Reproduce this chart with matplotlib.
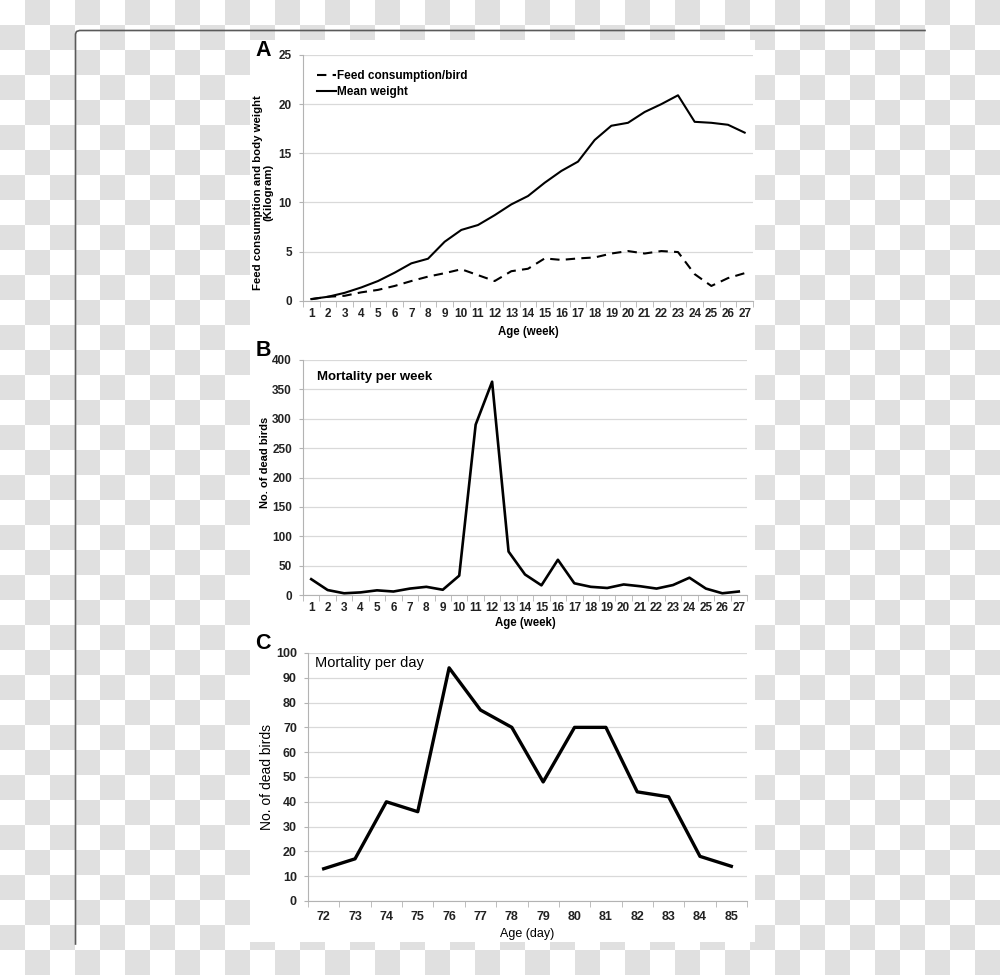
import numpy as np
import matplotlib
matplotlib.use('Agg')
import matplotlib.pyplot as plt
from matplotlib.patches import Rectangle

plt.rcParams['font.family'] = ['Liberation Sans', 'DejaVu Sans']
plt.rcParams['font.weight'] = 'bold'

# panel A: weekly feed and weight (kg)
weeks = list(range(1, 28))
mean_weight = [0.17, 0.4, 0.8, 1.35, 2.0, 2.85, 3.8, 4.27, 6.0, 7.2, 7.7, 8.7, 9.8, 10.65,
               12.0, 13.2, 14.15, 16.35, 17.8, 18.1, 19.2, 20.0, 20.9, 18.2, 18.1, 17.9, 17.1]
feed_per_bird = [0.15, 0.4, 0.5, 0.85, 1.1, 1.5, 2.0, 2.45, 2.8, 3.2, 2.6, 2.0, 3.0, 3.25,
                 4.3, 4.15, 4.3, 4.4, 4.8, 5.05, 4.8, 5.05, 4.95, 2.7, 1.5, 2.3, 2.8]

# panel B: mortality per week
dead_week = [27, 8.5, 3, 4.5, 8, 6, 11, 14, 9, 33, 290, 363, 74, 35,
             16.5, 60, 20, 14, 12, 18, 15, 11, 17, 29.5, 11, 3, 6]

# panel C: mortality per day
days = list(range(72, 86))
dead_day = [13, 17, 40, 36, 94, 77, 70, 48, 70, 70, 44, 42, 18, 14]

GRID = '#d9d9d9'
AXC = '#b3b3b3'

fig = plt.figure(figsize=(10, 9.75), dpi=100)

# checkerboard backdrop and page frame (pixel coords)
bg = fig.add_axes([0, 0, 1, 1])
ii, jj = np.meshgrid(np.arange(40), np.arange(39))
checker = np.where((ii + jj) % 2 == 1, 224, 255).astype(np.uint8)
bg.imshow(np.dstack([checker] * 3), extent=(0, 1000, 975, 0), interpolation='nearest')
bg.add_patch(Rectangle((250, 40), 505, 902, facecolor='white', edgecolor='none'))
bg.plot([75.5, 75.5, 76.5, 79.5, 925], [944, 34, 31.5, 30.5, 30.5], color='#5a5a5a', lw=1.2)
bg.set_xlim(0, 1000)
bg.set_ylim(975, 0)
bg.axis('off')


def style_axes(ax, ncat, ymax, ystep, lab_pad, fs=8.5):
    ax.set_facecolor('none')
    ax.set_xlim(0.5, ncat + 0.5)
    ax.set_ylim(0, ymax)
    ax.set_yticks(np.arange(0, ymax + 1, ystep))
    ax.grid(axis='y', color=GRID, lw=0.9)
    ax.set_axisbelow(True)
    for s in ['top', 'right']:
        ax.spines[s].set_visible(False)
    ax.spines['left'].set_color(AXC)
    ax.spines['bottom'].set_color(AXC)
    ax.set_xticks(np.arange(0.5, ncat + 1, 1.0), minor=True)
    ax.tick_params(axis='x', which='major', length=0, pad=lab_pad, labelsize=fs)
    ax.tick_params(axis='x', which='minor', length=4, color=AXC, direction='out')
    ax.tick_params(axis='y', length=3, color=AXC, pad=5, labelsize=fs)
    for t in ax.get_xticklabels() + ax.get_yticklabels():
        t.set_fontweight('bold')
        t.set_color('#222222')


# ---- A ----
axA = fig.add_axes([0.303, 0.6916, 0.45, 0.252])
xa = np.arange(1, len(weeks) + 1)
axA.plot(xa, feed_per_bird, color='black', lw=1.5, dashes=(4.5, 3), label='Feed consumption/bird')
axA.plot(xa, mean_weight, color='black', lw=1.5, label='Mean weight')
axA.set_xticks(xa)
axA.set_xticklabels([str(w) for w in weeks])
style_axes(axA, len(weeks), 25, 5, 5)
axA.legend(loc='upper left', bbox_to_anchor=(0.031, 0.938), frameon=False, borderpad=0,
           borderaxespad=0, handlelength=1.6, handletextpad=0.1, labelspacing=0.35,
           prop={'size': 8.5, 'weight': 'bold'})
axA.set_ylabel('Feed consumption and body weight\n(Kilogram)', fontsize=8.2, fontweight='bold',
               va='center', linespacing=1.0)
axA.yaxis.set_label_coords(-0.089, 0.44)
axA.set_xlabel('Age (week)', fontsize=8.3, fontweight='bold', va='center')
axA.xaxis.set_label_coords(0.5, -0.127)

# ---- B ----
axB = fig.add_axes([0.303, 0.3897, 0.444, 0.2411])
xb = np.arange(1, len(weeks) + 1)
axB.plot(xb, dead_week, color='black', lw=1.9)
axB.set_xticks(xb)
axB.set_xticklabels([str(w) for w in weeks])
style_axes(axB, len(weeks), 400, 50, 5)
axB.text(0.032, 0.928, 'Mortality per week', transform=axB.transAxes, fontsize=9.5,
         fontweight='bold', ha='left', va='center')
axB.set_ylabel('No. of dead birds', fontsize=8, fontweight='bold', va='center')
axB.yaxis.set_label_coords(-0.086, 0.566)
axB.set_xlabel('Age (week)', fontsize=8.3, fontweight='bold', va='center')
axB.xaxis.set_label_coords(0.5, -0.119)

# ---- C ----
axC = fig.add_axes([0.308, 0.0759, 0.439, 0.2544])
xc = np.arange(1, len(days) + 1)
axC.plot(xc, dead_day, color='black', lw=2.4)
axC.set_xticks(xc)
axC.set_xticklabels([str(d) for d in days])
style_axes(axC, len(days), 100, 10, 7, fs=9)
axC.text(0.016, 0.96, 'Mortality per day', transform=axC.transAxes, fontsize=10.5,
         fontweight='normal', ha='left', va='center')
axC.set_ylabel('No. of dead birds', fontsize=10, fontweight='normal', va='center')
axC.yaxis.set_label_coords(-0.093, 0.5)
axC.set_xlabel('Age (day)', fontsize=9, fontweight='normal', va='center')
axC.xaxis.set_label_coords(0.5, -0.133)

for letter, yy in [('A', 0.9477), ('B', 0.64), ('C', 0.3395)]:
    fig.text(0.263, yy, letter, fontsize=15.5, fontweight='bold', ha='center', va='center')

fig.savefig('out.png', dpi=100)
